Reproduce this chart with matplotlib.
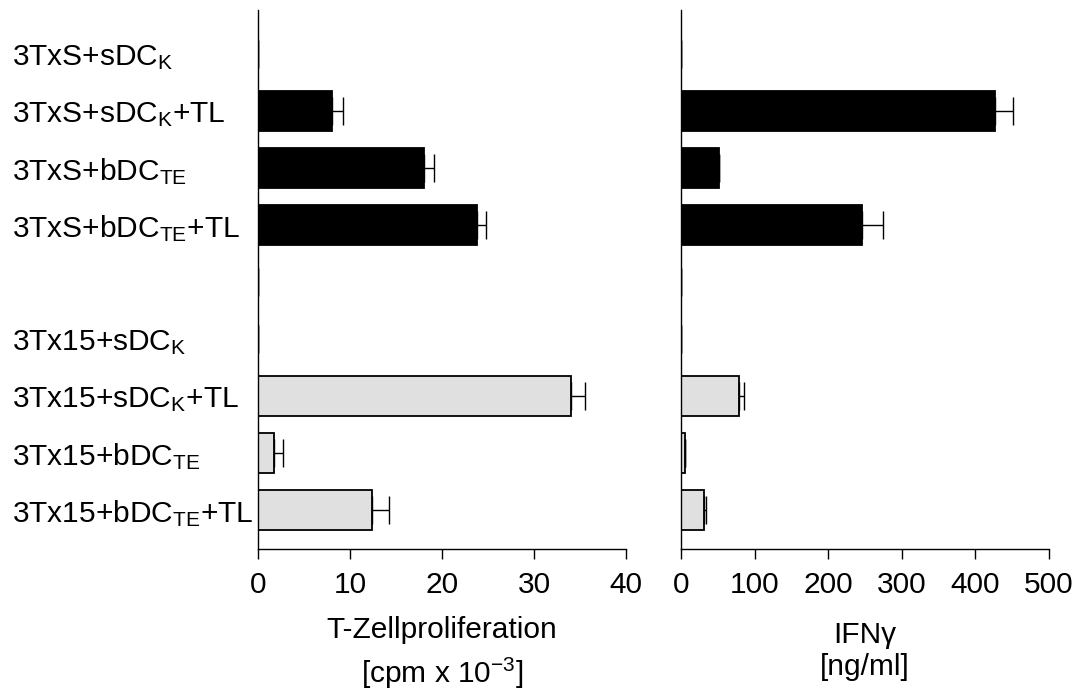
import matplotlib.pyplot as plt
import numpy as np

# Data ------------------------------------------------------------------
labels = [r'3TxS+sDC$_\mathregular{K}$',
          r'3TxS+sDC$_\mathregular{K}$+TL',
          r'3TxS+bDC$_\mathregular{TE}$',
          r'3TxS+bDC$_\mathregular{TE}$+TL',
          '',
          r'3Tx15+sDC$_\mathregular{K}$',
          r'3Tx15+sDC$_\mathregular{K}$+TL',
          r'3Tx15+bDC$_\mathregular{TE}$',
          r'3Tx15+bDC$_\mathregular{TE}$+TL']
groups = ['S', 'S', 'S', 'S', '-', '15', '15', '15', '15']

prolif = [0.0, 8.0, 18.0, 23.8, 0.0, 0.0, 34.0, 1.7, 12.4]
prolif_err = [0.0, 1.2, 1.1, 1.0, 0.0, 0.0, 1.5, 1.0, 1.8]

ifng = [0.0, 427, 52, 246, 0.0, 0.0, 79, 5, 31]
ifng_err = [0.0, 24, 0.0, 28, 0.0, 0.0, 7, 0.0, 3]

#------------------------------------------------------------------------

plt.rcParams['font.family'] = ['Liberation Sans', 'DejaVu Sans']
plt.rcParams['mathtext.fontset'] = 'custom'
plt.rcParams['mathtext.rm'] = 'Liberation Sans'
plt.rcParams['mathtext.it'] = 'Liberation Sans'

fs = 21.5
colors = ['black' if g == 'S' else '#e0e0e0' for g in groups]
pos = np.arange(len(labels))

fig = plt.figure(figsize=(10.79, 6.93), dpi=100)
ax1 = fig.add_axes([0.2391, 0.2078, 0.3411, 0.7778])
ax2 = fig.add_axes([0.6311, 0.2078, 0.3411, 0.7778])


def draw_panel(ax, values, errors, xmax, step):
    ax.barh(pos, values, height=0.7, color=colors, edgecolor='black', linewidth=1.3)
    ax.errorbar(values, pos, xerr=[np.zeros(len(values)), errors], fmt='none',
                ecolor='black', elinewidth=1, capsize=10, capthick=1)
    ax.set_xlim(0, xmax)
    ax.set_ylim(8.68, -0.77)
    ax.set_xticks(np.arange(0, xmax + 1, step))
    ax.spines['top'].set_visible(False)
    ax.spines['right'].set_visible(False)
    ax.spines['left'].set_linewidth(1)
    ax.spines['bottom'].set_linewidth(1)
    ax.tick_params(axis='x', length=7, width=1, labelsize=fs, pad=9)
    ax.tick_params(axis='y', length=0)


draw_panel(ax1, prolif, prolif_err, 40, 10)
draw_panel(ax2, ifng, ifng_err, 500, 100)

ax1.set_yticks(pos)
ax1.set_yticklabels(labels, fontsize=fs)
ax1.tick_params(axis='y', pad=177)
for lab in ax1.get_yticklabels():
    lab.set_horizontalalignment('left')
ax2.set_yticks(pos)
ax2.set_yticklabels([])

ax1.set_xlabel('T-Zellproliferation\n' + r'[cpm x 10$^{\mathregular{-3}}$]',
               fontsize=fs, linespacing=1.45, labelpad=12)
ax2.set_xlabel('IFN\u03b3\n[ng/ml]', fontsize=fs, linespacing=1.15, labelpad=16)

plt.savefig('out.png', dpi=100)
